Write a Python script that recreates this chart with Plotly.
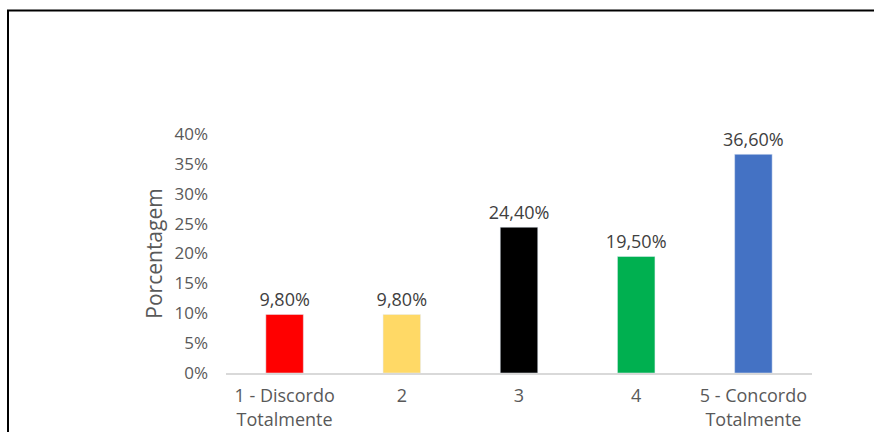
import plotly.graph_objects as go

categories = ["1 - Discordo<br>Totalmente", "2", "3", "4", "5 - Concordo<br>Totalmente"]
values = [0.098, 0.098, 0.244, 0.195, 0.366]
labels = ["9,80%", "9,80%", "24,40%", "19,50%", "36,60%"]
colors = ["#FF0000", "#FFD966", "#000000", "#00B050", "#4472C4"]
tick_vals = [0, 0.05, 0.10, 0.15, 0.20, 0.25, 0.30, 0.35, 0.40]
tick_text = ["0%", "5%", "10%", "15%", "20%", "25%", "30%", "35%", "40%"]

W, H = 874, 432
L, R, T, B = 226, 62, 134, 59
pw, ph = W - L - R, H - T - B
FONT = "Open Sans"

def px_to_paper_x(px):
    return (px - L) / pw

def px_to_paper_y(py):
    return (H - B - py) / ph

fig = go.Figure(go.Bar(
    x=categories, y=values, marker_color=colors,
    text=labels, textposition="outside", cliponaxis=False, constraintext="none",
    textfont=dict(size=18, color="#404040", family=FONT),
))

fig.update_layout(
    width=W, height=H,
    margin=dict(l=L, r=R, t=T, b=B, autoexpand=False),
    paper_bgcolor="white", plot_bgcolor="white",
    bargap=0.68,
    showlegend=False,
    font=dict(family=FONT, size=17, color="#595959"),
    xaxis=dict(showline=True, linecolor="#D9D9D9", linewidth=1.5, showgrid=False, automargin=False,
               tickfont=dict(size=18, color="#595959"), ticks="", ticklabelstandoff=6),
    yaxis=dict(range=[0, 0.40], tickvals=tick_vals, ticktext=tick_text, showgrid=False, automargin=False,
               zeroline=False, showline=False, ticks="", ticklabelstandoff=17,
               tickfont=dict(size=17, color="#595959"),
               title=dict(text="Porcentagem", font=dict(size=21, color="#595959"), standoff=6)),
    shapes=[
        dict(type="line", xref="paper", yref="paper",
             x0=px_to_paper_x(7), x1=px_to_paper_x(880),
             y0=px_to_paper_y(10.5), y1=px_to_paper_y(10.5),
             line=dict(color="black", width=2)),
        dict(type="line", xref="paper", yref="paper",
             x0=px_to_paper_x(8), x1=px_to_paper_x(8),
             y0=px_to_paper_y(10.5), y1=px_to_paper_y(440),
             line=dict(color="black", width=2)),
    ],
)

fig.write_html("out.html")
